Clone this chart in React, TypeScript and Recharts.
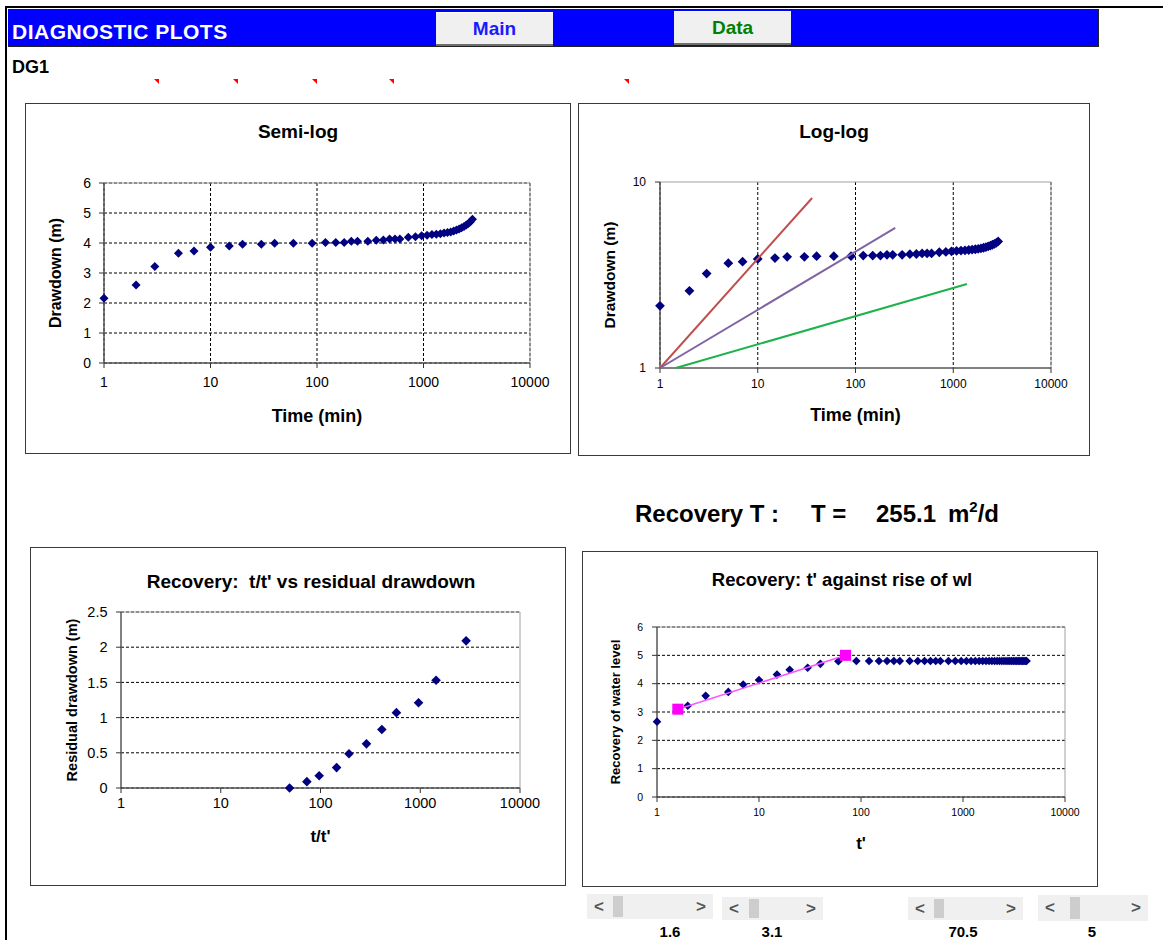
import React from 'react';
import { ScatterChart, Scatter, XAxis, YAxis, CartesianGrid, ReferenceArea } from 'recharts';

// ---------- data ----------
const pumpTime = [1, 2, 3, 5, 7, 10, 15, 20, 30, 40, 60, 90, 120, 150, 180, 210, 240, 300, 360, 420, 480, 540, 600, 720, 840, 960, 1080, 1200, 1320, 1440, 1560, 1680, 1800, 1920, 2040, 2160, 2280, 2400, 2520, 2640, 2760, 2880];
const drawdown = [2.16, 2.6, 3.22, 3.66, 3.73, 3.86, 3.9, 3.96, 3.96, 3.99, 3.99, 3.99, 4.02, 4.02, 4.02, 4.06, 4.06, 4.06, 4.09, 4.1, 4.13, 4.13, 4.13, 4.19, 4.21, 4.24, 4.26, 4.28, 4.29, 4.31, 4.33, 4.35, 4.37, 4.4, 4.43, 4.47, 4.51, 4.55, 4.6, 4.65, 4.71, 4.79];

const redLineT = [1, 36];
const redLineS = [1, 8.2];
const purpleLineT = [1, 255];
const purpleLineS = [1, 5.66];
const greenLineT = [1.45, 1380];
const greenLineS = [1.0, 2.83];

const ratioTT = [2881, 1441, 961, 577, 412, 289, 193, 145, 97, 73, 49];
const residual = [2.09, 1.53, 1.21, 1.07, 0.83, 0.627, 0.486, 0.29, 0.175, 0.09, 0.0];

const recTime = [1, 2, 3, 5, 7, 10, 15, 20, 30, 40, 60, 90, 120, 150, 180, 210, 240, 300, 360, 420, 480, 540, 600, 720, 840, 960, 1080, 1200, 1320, 1440, 1560, 1680, 1800, 1920, 2040, 2160, 2280, 2400, 2520, 2640, 2760, 2880, 3000, 3120, 3240, 3360, 3480, 3600, 3720, 3840, 3960, 4080, 4200];
const recRise = [
  2.66, 3.22, 3.57, 3.71, 3.97, 4.13, 4.32, 4.49, 4.56, 4.7, 4.79,
  4.8, 4.8, 4.8, 4.8, 4.8, 4.8,
  4.8, 4.8, 4.8, 4.8, 4.8, 4.8,
  4.8, 4.8, 4.8,
  4.8, 4.8, 4.8, 4.8, 4.8, 4.8, 4.8, 4.8, 4.8,
  4.8, 4.8, 4.8, 4.8, 4.8, 4.8, 4.8, 4.8, 4.8,
  4.8, 4.8, 4.8, 4.8, 4.8, 4.8, 4.8, 4.8, 4.8,
];
const fitT = [1.6, 70.5];
const fitRise = [3.1, 5];

const logTicks = [1, 10, 100, 1000, 10000];
const semiYTicks = [0, 1, 2, 3, 4, 5, 6];
const logYTicks = [1, 10];
const resYTicks = [0, 0.5, 1, 1.5, 2, 2.5];
const riseYTicks = [0, 1, 2, 3, 4, 5, 6];
const sliderValues = ['1.6', '3.1', '70.5', '5'];
const transmissivity = '255.1';

const zip = (xs: number[], ys: number[]) => xs.map((x, i) => ({ x, y: ys[i] }));

const FONT = '"Liberation Sans", Arial, Helvetica, sans-serif';
const NAVY = '#000080';

const diamond = (r: number) => (props: any) => {
  const { cx, cy } = props;
  if (cx == null || cy == null || isNaN(cx) || isNaN(cy)) return <g />;
  return <path d={`M${cx},${cy - r}L${cx + r},${cy}L${cx},${cy + r}L${cx - r},${cy}Z`} fill={NAVY} />;
};
const square = (r: number) => (props: any) => {
  const { cx, cy } = props;
  if (cx == null || cy == null || isNaN(cx) || isNaN(cy)) return <g />;
  return <rect x={cx - r} y={cy - r} width={2 * r} height={2 * r} fill="#FF00FF" />;
};
const noShape = () => <g />;

type BoxProps = {
  left: number; top: number; width: number; height: number;
  plotL: number; plotR: number; plotT: number; plotB: number;
  title: string; titleSize: number; titleCx: number; titleCy: number;
  xLabel: string; xLabelSize: number; xLabelOffset: number;
  yLabel: string; yLabelSize: number; yLabelX: number;
  yScale: 'linear' | 'log'; yDomain: [number, number]; yTicks: number[];
  xTickSize: number; yTickSize: number; xTickMargin: number; yTickMargin: number;
  hGrid: boolean; vGrid: boolean;
  children?: React.ReactNode;
};

function ChartBox(p: BoxProps) {
  const w = p.width - 2;
  const h = p.height - 2;
  const ox = p.left + 1;
  const oy = p.top + 1;
  const yAxisW = p.plotL - ox;
  const xAxisH = oy + h - p.plotB;
  const margin = { top: p.plotT - oy, right: ox + w - p.plotR, bottom: 0, left: 0 };
  return (
    <div style={{ position: 'absolute', left: p.left, top: p.top, width: p.width, height: p.height, border: '1px solid #3a3a3a', boxSizing: 'border-box', background: '#fff' }}>
      <ScatterChart width={w} height={h} margin={margin}>
        <ReferenceArea x1={1} x2={10000} y1={p.yDomain[0]} y2={p.yDomain[1]} fill="none" fillOpacity={0} stroke="#a0a0a0" strokeWidth={1} ifOverflow="visible" />
        <CartesianGrid stroke="#000" strokeDasharray="3 2" horizontal={p.hGrid} vertical={p.vGrid} fill="none" />
        <XAxis
          type="number" dataKey="x" scale="log" domain={[1, 10000]} ticks={logTicks} interval={0}
          height={xAxisH} tickSize={5} tickMargin={p.xTickMargin}
          tick={{ fontSize: p.xTickSize, fill: '#000', fontFamily: FONT }}
          axisLine={{ stroke: '#333' }} tickLine={{ stroke: '#333' }}
          label={{ value: p.xLabel, position: 'insideTop', offset: p.xLabelOffset, style: { fontSize: p.xLabelSize, fontWeight: 'bold', fill: '#000', fontFamily: FONT } }}
        />
        <YAxis
          type="number" dataKey="y" scale={p.yScale} domain={p.yDomain} ticks={p.yTicks} interval={0}
          width={yAxisW} tickSize={5} tickMargin={p.yTickMargin}
          tick={{ fontSize: p.yTickSize, fill: '#000', fontFamily: FONT }}
          axisLine={{ stroke: '#333' }} tickLine={{ stroke: '#333' }}
          label={{ value: p.yLabel, angle: -90, position: 'insideLeft', offset: p.yLabelX, style: { textAnchor: 'middle', fontSize: p.yLabelSize, fontWeight: 'bold', fill: '#000', fontFamily: FONT } }}
        />
        {p.children}
      </ScatterChart>
      <div style={{ position: 'absolute', left: p.titleCx - ox - 250, width: 500, top: p.titleCy - oy - 0.49 * p.titleSize, textAlign: 'center', fontWeight: 'bold', fontSize: p.titleSize, lineHeight: 1, whiteSpace: 'pre' }}>{p.title}</div>
    </div>
  );
}

function Slider({ left, top, width, height, thumb, label, labelCx }: any) {
  return (
    <>
      <div style={{ position: 'absolute', left, top, width, height, background: '#f0f0f0' }}>
        <div style={{ position: 'absolute', left: thumb, top: 2, width: 10, height: height - 4, background: '#cdcdcd' }} />
        <div style={{ position: 'absolute', left: 7, top: 0, height, lineHeight: `${height}px`, fontSize: 17, fontWeight: 'bold', color: '#555' }}>&lt;</div>
        <div style={{ position: 'absolute', right: 7, top: 0, height, lineHeight: `${height}px`, fontSize: 17, fontWeight: 'bold', color: '#555' }}>&gt;</div>
      </div>
      <div style={{ position: 'absolute', left: labelCx - 40, width: 80, top: 924, textAlign: 'center', fontSize: 15, fontWeight: 'bold', lineHeight: 1 }}>{label}</div>
    </>
  );
}

const semiData = zip(pumpTime, drawdown);
const redData = zip(redLineT, redLineS);
const purpleData = zip(purpleLineT, purpleLineS);
const greenData = zip(greenLineT, greenLineS);
const resData = zip(ratioTT, residual);
const riseData = zip(recTime, recRise);
const fitData = zip(fitT, fitRise);

const commentMarks = [157, 236, 315, 392, 627];

export default function App() {
  return (
    <div style={{ position: 'absolute', left: 0, top: 0, width: 1163, height: 940, overflow: 'hidden', background: '#fff', fontFamily: FONT, color: '#000' }}>
      {/* sheet frame */}
      <div style={{ position: 'absolute', left: 5, top: 6, width: 1158, height: 2, background: '#000' }} />
      <div style={{ position: 'absolute', left: 5, top: 6, width: 2, height: 934, background: '#000' }} />
      {/* header bar */}
      <div style={{ position: 'absolute', left: 8, top: 9, width: 1090, height: 37, background: '#0000FF', borderBottom: '1px solid #222', borderRight: '1px solid #222' }} />
      <div style={{ position: 'absolute', left: 12, top: 21, fontSize: 21, fontWeight: 'bold', color: '#fff', lineHeight: 1, letterSpacing: 0.5, whiteSpace: 'pre' }}>DIAGNOSTIC PLOTS</div>
      <div style={{ position: 'absolute', left: 436, top: 12, width: 117, height: 34, background: '#f0f0f0', borderTop: '1px solid #fff', borderBottom: '2px solid #6e6e6e', boxSizing: 'border-box', textAlign: 'center', lineHeight: '32px', fontSize: 19, fontWeight: 'bold', color: '#1a1aff' }}>Main</div>
      <div style={{ position: 'absolute', left: 674, top: 11, width: 117, height: 34, background: '#f0f0f0', borderTop: '1px solid #fff', borderBottom: '2px solid #6e6e6e', boxSizing: 'border-box', textAlign: 'center', lineHeight: '32px', fontSize: 19, fontWeight: 'bold', color: '#008000' }}>Data</div>
      <div style={{ position: 'absolute', left: 12, top: 58, fontSize: 18, fontWeight: 'bold', lineHeight: 1 }}>DG1</div>
      {commentMarks.map((x) => (
        <div key={x} style={{ position: 'absolute', left: x - 3, top: 79, width: 0, height: 0, borderTop: '5px solid #ff0000', borderLeft: '5px solid transparent' }} />
      ))}

      <ChartBox
        left={25} top={103} width={546} height={351}
        plotL={104} plotR={530} plotT={183} plotB={363}
        title="Semi-log" titleSize={19} titleCx={298} titleCy={131}
        xLabel="Time (min)" xLabelSize={18} xLabelOffset={46}
        yLabel="Drawdown (m)" yLabelSize={16} yLabelX={29}
        yScale="linear" yDomain={[0, 6]} yTicks={semiYTicks}
        xTickSize={14} yTickSize={14} xTickMargin={9} yTickMargin={8}
        hGrid={true} vGrid={true}
      >
        <Scatter data={semiData} shape={diamond(4.5)} isAnimationActive={false} />
      </ChartBox>

      <ChartBox
        left={578} top={103} width={512} height={353}
        plotL={660} plotR={1051} plotT={182} plotB={368}
        title="Log-log" titleSize={19} titleCx={834} titleCy={131}
        xLabel="Time (min)" xLabelSize={18} xLabelOffset={40}
        yLabel="Drawdown (m)" yLabelSize={15.5} yLabelX={30}
        yScale="log" yDomain={[1, 10]} yTicks={logYTicks}
        xTickSize={12} yTickSize={12} xTickMargin={6} yTickMargin={9}
        hGrid={false} vGrid={true}
      >
        <Scatter data={semiData} shape={diamond(4.9)} isAnimationActive={false} />
        <Scatter data={redData} shape={noShape} line={{ stroke: '#C0504D', strokeWidth: 2 }} isAnimationActive={false} />
        <Scatter data={purpleData} shape={noShape} line={{ stroke: '#8064A2', strokeWidth: 2 }} isAnimationActive={false} />
        <Scatter data={greenData} shape={noShape} line={{ stroke: '#1DB34A', strokeWidth: 2 }} isAnimationActive={false} />
      </ChartBox>

      <div style={{ position: 'absolute', left: 635, top: 502, fontSize: 24, fontWeight: 'bold', lineHeight: 1, whiteSpace: 'pre' }}>Recovery T :</div>
      <div style={{ position: 'absolute', left: 811, top: 502, fontSize: 24, fontWeight: 'bold', lineHeight: 1, whiteSpace: 'pre' }}>T =</div>
      <div style={{ position: 'absolute', left: 876, top: 502, fontSize: 24, fontWeight: 'bold', lineHeight: 1, whiteSpace: 'pre' }}>{transmissivity}</div>
      <div style={{ position: 'absolute', left: 948, top: 502, fontSize: 24, fontWeight: 'bold', lineHeight: 1, whiteSpace: 'pre' }}>
        m<span style={{ fontSize: 15, position: 'relative', top: -10 }}>2</span>/d
      </div>

      <ChartBox
        left={30} top={547} width={536} height={339}
        plotL={121} plotR={520} plotT={612} plotB={788}
        title="Recovery:  t/t' vs residual drawdown" titleSize={19} titleCx={311} titleCy={581}
        xLabel="t/t'" xLabelSize={17} xLabelOffset={42}
        yLabel="Residual drawdown (m)" yLabelSize={14.5} yLabelX={41}
        yScale="linear" yDomain={[0, 2.5]} yTicks={resYTicks}
        xTickSize={14.5} yTickSize={14.5} xTickMargin={5} yTickMargin={8.5}
        hGrid={true} vGrid={false}
      >
        <Scatter data={resData} shape={diamond(4.8)} isAnimationActive={false} />
      </ChartBox>

      <ChartBox
        left={582} top={551} width={516} height={336}
        plotL={657} plotR={1065} plotT={627} plotB={797}
        title="Recovery: t' against rise of wl" titleSize={18.5} titleCx={842} titleCy={580}
        xLabel="t'" xLabelSize={17} xLabelOffset={40}
        yLabel="Recovery of water level" yLabelSize={13} yLabelX={32}
        yScale="linear" yDomain={[0, 6]} yTicks={riseYTicks}
        xTickSize={10.5} yTickSize={10.5} xTickMargin={7} yTickMargin={9}
        hGrid={true} vGrid={false}
      >
        <Scatter data={riseData} shape={diamond(4.3)} isAnimationActive={false} />
        <Scatter data={fitData} shape={square(5.5)} line={{ stroke: '#FF55FF', strokeWidth: 1.5 }} isAnimationActive={false} />
      </ChartBox>

      <Slider left={587} top={894} width={126} height={25} thumb={26} label={sliderValues[0]} labelCx={670} />
      <Slider left={722} top={897} width={101} height={23} thumb={27} label={sliderValues[1]} labelCx={772} />
      <Slider left={908} top={897} width={115} height={23} thumb={26} label={sliderValues[2]} labelCx={963} />
      <Slider left={1038} top={895} width={110} height={26} thumb={32} label={sliderValues[3]} labelCx={1092} />
    </div>
  );
}
